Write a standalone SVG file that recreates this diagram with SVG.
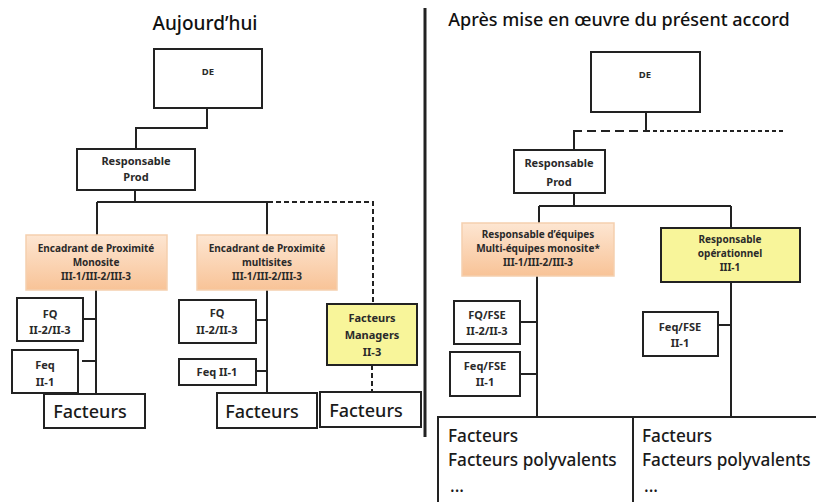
<svg xmlns="http://www.w3.org/2000/svg" width="816" height="502" viewBox="0 0 816 502">
<defs>
<linearGradient id="og" x1="0" y1="0" x2="0" y2="1">
<stop offset="0" stop-color="#fde6d2"/>
<stop offset="1" stop-color="#f8c397"/>
</linearGradient>
<style>
.box{fill:#fff;stroke:#222;stroke-width:2}
.org{fill:url(#og);stroke:#f5cfae;stroke-width:1.5}
.yel{fill:#f8f59a;stroke:#222;stroke-width:2}
.ln{fill:none;stroke:#222;stroke-width:2}
.dl{fill:none;stroke:#222;stroke-width:2;stroke-dasharray:5 3}
.t{font-family:"Noto Sans","Open Sans",sans-serif;font-weight:bold;fill:#2a2a2a;text-anchor:middle}
.s10{font-size:10px}
.s11{font-size:11px}
.s9{font-size:9.5px}
.big{font-family:"Noto Sans","Open Sans",sans-serif;font-size:18px;font-weight:500;fill:#1a1a1a}
.btm{font-family:"Noto Sans","Open Sans",sans-serif;font-size:17.2px;font-weight:500;fill:#1a1a1a}
.title{font-family:"Noto Sans","Open Sans",sans-serif;font-weight:500;fill:#111;text-anchor:middle}
</style>
</defs>
<rect width="816" height="502" fill="#fff"/>

<text class="title" x="205" y="30" font-size="19">Aujourd’hui</text>
<text class="title" x="619" y="26" font-size="18">Après mise en œuvre du présent accord</text>
<line x1="425" y1="8" x2="425" y2="437" stroke="#222" stroke-width="3"/>

<g id="connectors">
<path class="ln" d="M207 108V128H136V149"/>
<path class="ln" d="M135 190V202M97 202H268M97 202V235M267 202V235"/>
<path class="dl" d="M268 202H373V304M372 365V392"/>
<path class="ln" d="M96 290V394M83 319H96M82 361H96"/>
<path class="ln" d="M267 290V393M256 320H267M256 371H267"/>
<path class="ln" d="M646 112V131M574 131V150"/>
<path fill="none" stroke="#222" stroke-width="2" stroke-dasharray="9 5" d="M573 131H646"/>
<path fill="none" stroke="#222" stroke-width="2" stroke-dasharray="4 3" d="M646 131H783"/>
<path class="ln" d="M574 193V206M539 206H731M539 206V223M731 206V228"/>
<path class="ln" d="M537 276V418M520 322H537M520 374H537"/>
<path class="ln" d="M731 282V418M718 325H731"/>
</g>

<g id="de-left"><rect class="box" x="154" y="49" width="108" height="59"/><text class="t s9" x="208" y="75">DE</text></g>
<g id="resp-prod-left"><rect class="box" x="77" y="149" width="118" height="41"/><text class="t s11" x="136" y="165">Responsable</text><text class="t s11" x="136" y="181">Prod</text></g>
<g id="encadrant-monosite"><rect class="org" x="26" y="235" width="141" height="55"/><text class="t s10" x="96" y="252">Encadrant de Proximité</text><text class="t s10" x="96" y="266">Monosite</text><text class="t s10" x="96" y="280">III-1/III-2/III-3</text></g>
<g id="encadrant-multisites"><rect class="org" x="197" y="235" width="140" height="55"/><text class="t s10" x="267" y="252">Encadrant de Proximité</text><text class="t s10" x="267" y="266">multisites</text><text class="t s10" x="267" y="280">III-1/III-2/III-3</text></g>
<g id="fq-left"><rect class="box" x="17" y="298" width="66" height="43"/><text class="t s11" x="50" y="318">FQ</text><text class="t s11" x="50" y="334">II-2/II-3</text></g>
<g id="feq-left"><rect class="box" x="12" y="350" width="66" height="43"/><text class="t s11" x="45" y="369">Feq</text><text class="t s11" x="45" y="386">II-1</text></g>
<g id="facteurs-1"><rect class="box" x="44" y="394" width="101" height="34"/><text class="big" x="90" y="418" text-anchor="middle">Facteurs</text></g>
<g id="fq-mid"><rect class="box" x="179" y="300" width="77" height="43"/><text class="t s11" x="217" y="317">FQ</text><text class="t s11" x="217" y="334">II-2/II-3</text></g>
<g id="feq-mid"><rect class="box" x="179" y="359" width="77" height="26"/><text class="t s11" x="217" y="376">Feq II-1</text></g>
<g id="facteurs-2"><rect class="box" x="217" y="393" width="100" height="35"/><text class="big" x="262" y="418" text-anchor="middle">Facteurs</text></g>
<g id="facteurs-managers"><rect class="yel" x="327" y="304" width="90" height="61"/><text class="t s11" x="372" y="322">Facteurs</text><text class="t s11" x="372" y="339">Managers</text><text class="t s11" x="372" y="356">II-3</text></g>
<g id="facteurs-3"><rect class="box" x="320" y="392" width="101" height="35"/><text class="big" x="366" y="417" text-anchor="middle">Facteurs</text></g>

<g id="de-right"><rect class="box" x="591" y="52" width="109" height="60"/><text class="t s9" x="645" y="78">DE</text></g>
<g id="resp-prod-right"><rect class="box" x="514" y="150" width="91" height="43"/><text class="t s11" x="559" y="167">Responsable</text><text class="t s11" x="559" y="186">Prod</text></g>
<g id="resp-equipes"><rect class="org" x="462" y="223" width="152" height="53"/><text class="t s10" x="538" y="238">Responsable d’équipes</text><text class="t s10" x="538" y="252">Multi-équipes monosite*</text><text class="t s10" x="538" y="266">III-1/III-2/III-3</text></g>
<g id="resp-operationnel"><rect class="yel" x="661" y="228" width="139" height="54"/><text class="t s10" x="730" y="243">Responsable</text><text class="t s10" x="730" y="257">opérationnel</text><text class="t s10" x="730" y="271">III-1</text></g>
<g id="fq-fse"><rect class="box" x="454" y="301" width="66" height="43"/><text class="t s11" x="487" y="319">FQ/FSE</text><text class="t s11" x="487" y="335">II-2/II-3</text></g>
<g id="feq-fse-left"><rect class="box" x="450" y="352" width="70" height="44"/><text class="t s11" x="485" y="370">Feq/FSE</text><text class="t s11" x="485" y="386">II-1</text></g>
<g id="feq-fse-right"><rect class="box" x="643" y="312" width="75" height="44"/><text class="t s11" x="680" y="331">Feq/FSE</text><text class="t s11" x="680" y="347">II-1</text></g>
<g id="facteurs-bottom-left"><path class="ln" d="M438 503V417H633V503"/><text class="btm" x="448" y="442">Facteurs</text><text class="btm" x="448" y="466">Facteurs polyvalents</text><text class="btm" x="450" y="492" font-size="11">...</text></g>
<g id="facteurs-bottom-right"><path class="ln" d="M633 417H817"/><text class="btm" x="642" y="442">Facteurs</text><text class="btm" x="642" y="466">Facteurs polyvalents</text><text class="btm" x="644" y="492" font-size="11">...</text></g>
</svg>
